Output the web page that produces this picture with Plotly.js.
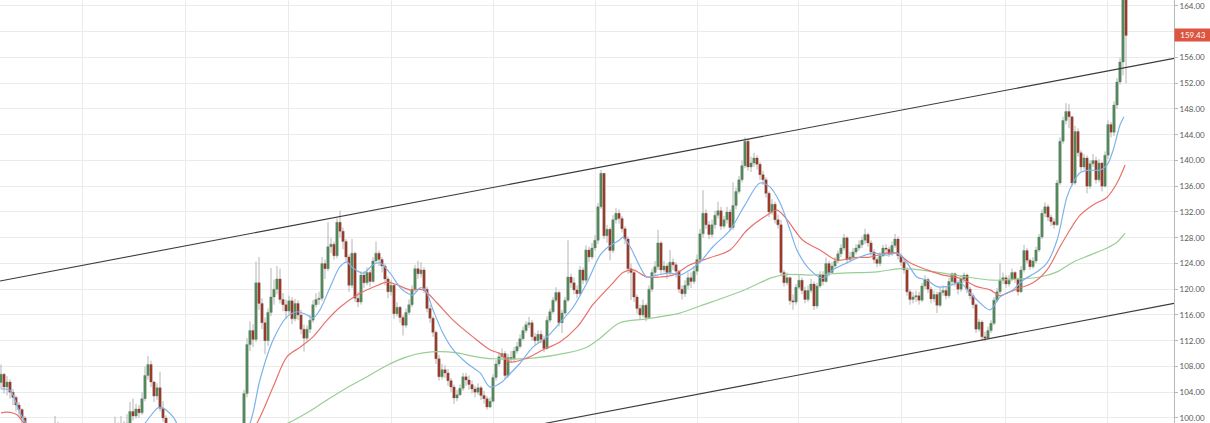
<!DOCTYPE html>
<html>
<head>
<meta charset="utf-8">
<script src="https://cdn.plot.ly/plotly-3.0.1.min.js"></script>
<style>html,body{margin:0;padding:0;background:#fff;}#chart{width:1210px;height:423px;}</style>
</head>
<body>
<div id="chart"></div>
<script>
// ---- price data (daily candles) ----
const firstOpen = 105.5;
const closes = [
106.8,104.8,105.6,104.0,103.2,102.0,101.3,100.0,98.8,98.0,
97.4,97.0,96.5,97.2,96.4,96.8,97.5,98.2,99.0,97.8,
97.0,96.4,95.8,95.4,96.0,96.6,97.2,96.5,95.9,95.3,
95.0,95.6,96.2,96.7,97.1,97.6,98.0,97.6,98.6,98.0,
98.7,98.2,99.2,101.0,100.3,101.4,100.8,103.0,106.6,108.3,
105.6,103.4,104.7,101.5,100.0,98.4,97.4,96.8,96.0,95.5,
95.0,94.4,94.0,94.6,95.1,94.2,93.6,93.1,93.5,94.1,
94.6,94.0,93.5,93.1,93.6,94.2,94.7,95.2,95.6,96.1,
98.2,103.8,111.4,113.6,112.2,121.0,117.8,114.8,112.0,116.4,
118.8,120.0,121.6,118.4,117.6,116.6,118.2,115.4,117.8,116.0,
113.8,112.4,113.8,115.2,117.6,118.4,118.6,124.0,123.2,126.6,
127.0,125.2,130.4,129.0,127.4,125.0,120.6,125.6,118.6,118.0,
122.2,121.0,122.6,121.2,124.4,125.6,124.6,123.6,121.6,119.6,
120.6,116.2,117.2,115.6,114.4,116.4,117.6,120.0,123.2,122.4,
123.0,120.0,117.0,115.5,113.3,109.2,106.4,107.5,107.0,105.8,
104.8,103.1,103.6,104.6,106.4,105.9,105.2,104.5,104.0,104.7,
103.5,103.0,101.7,102.6,106.3,108.4,109.5,110.0,106.6,109.4,
109.2,110.4,111.1,112.3,113.6,114.5,114.8,112.6,112.0,113.0,
112.2,110.8,115.2,116.5,118.3,119.5,114.8,116.3,118.3,121.9,
121.0,119.9,119.3,123.0,121.4,126.1,125.0,126.4,127.6,132.8,
138.0,128.3,129.3,126.0,130.8,131.8,131.0,129.4,127.8,123.2,
122.6,118.8,117.0,116.0,117.5,115.6,120.0,122.6,123.5,127.2,
123.0,123.6,122.6,124.2,123.8,122.8,120.0,119.3,120.6,121.8,
121.2,122.8,124.6,128.6,131.8,130.0,128.5,130.0,131.5,132.2,
129.8,130.8,132.0,129.6,133.0,135.2,137.0,139.2,143.0,139.0,
139.6,140.4,139.4,137.8,137.0,134.9,132.0,133.2,130.8,130.0,
122.6,121.0,121.8,118.2,118.0,120.3,121.4,119.8,118.4,119.8,
120.8,117.4,120.5,122.3,121.2,124.0,122.6,123.6,124.4,125.5,
126.4,128.0,124.6,125.0,125.8,126.4,126.9,127.6,128.5,127.2,
125.8,124.6,124.0,125.2,126.4,126.2,125.5,126.8,127.8,125.2,
124.2,123.0,119.6,118.4,118.8,119.0,118.3,120.5,121.5,120.0,
118.5,119.2,117.5,119.5,119.8,119.0,121.2,122.4,121.0,120.0,
121.6,122.2,120.0,119.0,117.6,113.8,114.9,112.6,112.4,113.6,
114.7,118.3,119.6,121.4,121.8,120.8,121.6,122.6,121.6,119.6,
123.0,126.0,124.5,123.5,124.4,126.1,128.1,131.8,132.8,131.2,
130.5,130.0,136.5,143.0,146.2,147.6,146.8,136.5,144.5,141.2,
139.0,140.4,136.0,139.5,140.0,137.0,139.6,136.0,140.8,145.6,
144.4,148.6,152.2,155.3,167.5,159.43
];
const highs = [
108.3,107.0,106.5,106.0,104.5,103.5,102.5,101.5,100.3,99.0,
98.6,98.0,97.5,97.8,97.5,97.6,98.2,99.0,100.3,99.4,
98.2,97.4,96.8,96.2,96.6,97.2,97.8,97.6,96.8,96.2,
95.8,96.2,96.8,97.3,97.8,98.3,98.8,98.6,100.2,99.3,
100.3,99.5,100.6,102.5,103.0,102.2,102.0,104.0,108.0,109.6,
108.9,105.8,105.4,107.2,102.6,100.4,98.8,97.8,97.2,96.4,
96.0,95.4,95.0,95.2,95.8,95.4,94.6,94.0,94.2,94.8,
95.2,95.0,94.4,94.0,94.2,94.8,95.3,95.8,96.4,96.8,
99.0,104.4,112.4,115.0,114.6,124.3,125.0,118.6,115.6,117.0,
123.3,121.5,123.6,123.2,119.4,118.4,119.0,118.8,118.5,118.3,
116.8,114.5,114.4,116.0,118.3,119.4,119.6,125.0,124.6,130.4,
128.0,127.4,131.0,132.2,129.6,127.8,125.4,127.8,125.8,119.6,
122.8,122.8,123.4,123.0,125.0,127.4,126.0,125.0,124.0,122.0,
121.4,120.8,118.0,117.4,116.0,117.0,118.4,120.6,123.8,124.4,
124.2,123.4,120.4,117.6,115.8,113.6,109.8,108.4,108.2,107.6,
106.2,105.2,104.4,105.2,107.0,107.0,106.6,105.8,105.0,105.4,
105.0,104.2,103.4,103.2,106.8,109.0,110.2,110.8,110.4,110.0,
110.4,111.0,111.8,113.0,114.2,115.0,115.7,115.2,113.2,113.6,
113.6,112.8,115.8,117.0,118.8,120.3,119.8,116.8,118.8,127.6,
122.4,121.8,120.6,123.6,123.4,126.8,126.6,127.2,128.4,133.4,
138.5,137.8,130.0,129.6,131.5,132.6,132.4,131.4,129.8,128.2,
124.0,123.0,119.2,117.6,118.4,117.8,120.6,123.2,124.4,129.2,
127.5,124.4,124.0,126.1,124.8,124.2,123.0,120.6,121.4,122.6,
122.6,123.6,125.4,129.4,135.4,132.4,130.6,130.8,132.2,133.6,
132.8,131.4,132.8,132.4,136.6,135.8,137.6,140.0,143.6,143.4,
140.6,141.2,140.8,139.8,138.4,137.4,135.2,134.0,133.6,131.6,
130.8,123.0,122.6,122.0,119.2,120.8,122.2,121.8,120.4,120.6,
121.6,121.2,121.0,122.8,122.8,124.9,124.4,124.2,125.0,126.0,
127.0,128.6,128.2,125.8,126.4,127.0,127.6,128.2,129.4,128.8,
127.6,126.2,125.0,125.8,126.9,127.0,126.6,127.4,128.6,128.2,
125.6,124.6,123.4,120.0,119.6,119.8,119.6,121.0,122.2,121.8,
120.4,119.8,119.6,120.2,120.6,120.4,121.8,122.6,122.6,121.4,
122.2,122.6,122.4,120.4,119.4,117.8,115.4,115.2,113.4,114.2,
115.2,118.8,120.2,124.0,122.6,122.2,122.2,123.2,122.8,121.8,
123.6,126.9,126.4,124.8,125.0,126.6,128.6,132.4,133.5,133.2,
131.6,131.0,137.0,143.6,146.8,148.9,148.8,146.8,145.4,145.0,
141.6,141.0,140.8,140.0,141.0,140.6,140.2,139.8,141.4,146.2,
146.0,149.2,152.8,156.0,170.0,168.0
];
const lows = [
104.5,103.8,103.5,103.0,102.0,101.0,100.2,99.0,97.8,97.0,
96.5,96.2,95.8,96.0,95.8,95.9,96.5,97.4,98.0,97.2,
96.4,95.6,95.0,94.6,95.0,95.8,96.2,96.0,95.2,94.6,
94.2,94.8,95.4,96.0,96.4,96.9,97.2,97.0,97.6,97.4,
97.7,97.5,98.0,98.8,99.6,99.9,100.0,100.5,102.6,106.0,
104.8,102.5,102.8,101.0,99.4,97.8,96.6,96.0,95.4,94.8,
94.3,93.8,93.3,93.6,94.2,93.6,92.9,92.4,92.6,93.2,
93.8,93.3,92.8,92.4,92.8,93.3,93.9,94.4,94.8,95.2,
95.6,97.8,103.2,110.4,111.0,111.8,116.8,113.8,109.9,111.2,
115.8,117.6,119.2,117.8,116.6,115.4,116.0,114.6,115.0,115.2,
113.0,110.3,111.8,113.2,114.8,117.2,117.6,118.2,121.6,122.8,
125.6,124.6,124.8,128.0,126.2,124.2,119.6,120.2,118.0,117.2,
117.6,120.2,120.6,120.4,121.0,124.0,123.6,122.6,120.6,118.6,
119.0,115.4,115.8,114.8,112.8,114.0,116.0,117.2,119.6,121.6,
121.8,119.4,116.4,114.8,112.6,108.4,105.8,106.0,106.2,105.0,
104.0,102.2,102.6,103.4,104.2,105.0,104.4,103.8,103.2,103.6,
102.8,102.2,101.3,101.5,102.4,105.8,108.0,109.0,106.0,106.2,
108.6,108.8,110.0,110.8,112.0,113.2,114.0,112.0,111.2,111.6,
111.6,110.2,110.6,114.8,116.2,118.0,114.2,113.2,116.0,118.0,
120.2,119.2,118.6,119.0,120.8,121.0,124.2,124.6,126.0,127.0,
132.5,127.8,127.2,124.5,125.6,130.2,130.2,128.8,127.0,122.4,
118.3,118.0,116.2,115.2,115.6,115.0,115.4,119.6,122.2,123.0,
122.4,122.6,121.6,122.2,123.0,121.8,119.4,118.4,118.8,120.0,
120.2,120.8,122.2,124.0,128.0,129.4,127.8,128.0,129.4,131.0,
129.2,129.4,130.2,129.0,129.2,132.4,134.8,136.6,138.8,138.4,
138.2,139.0,138.6,137.0,136.2,134.2,131.2,131.6,130.2,129.4,
122.0,120.4,120.6,117.6,116.8,117.6,120.0,119.2,117.8,118.0,
119.4,116.8,117.0,120.2,120.6,121.0,122.0,122.4,123.2,124.0,
125.0,126.0,124.0,124.2,124.6,125.4,126.0,126.4,127.0,126.6,
125.2,124.0,123.4,123.6,125.0,125.6,125.0,125.2,126.4,124.6,
123.6,122.4,119.0,117.6,117.8,118.0,117.6,118.0,120.0,119.4,
117.8,118.0,116.3,117.2,119.0,118.4,118.6,120.6,120.4,119.2,
119.6,121.0,119.4,118.4,117.0,113.2,113.4,112.0,111.9,112.2,
113.2,114.4,118.0,119.2,120.8,120.2,120.4,121.2,121.0,119.0,
119.4,122.6,124.0,123.0,123.2,124.0,125.8,127.8,131.2,130.6,
129.8,129.4,129.8,136.2,142.6,145.6,145.0,136.0,136.2,140.6,
138.4,138.6,134.9,135.6,139.0,136.4,136.6,135.2,135.8,140.2,
143.6,143.8,148.0,151.8,153.2,152.0
];

// ---- moving averages (candle index / value) ----
const maFastIdx = [0,3,6.3,8.7,12,20,30,40,46,48,52.3,53.7,57.3,59,63,70,78,83,86.3,90.7,95.3,98.7,102,104,106.3,109.7,113,115.3,117.3,120.7,124,126.3,129.7,133,135.3,137.3,139.7,141.3,144,147.3,150.7,155.3,159.7,163,167,168.7,173,177.3,182,186.3,190.7,195.3,199.7,202,206.3,207.3,209.7,213,215.3,218.7,223,226.3,229.7,233,237.3,243,248,253,256.3,259.7,263,265.3,269.7,274,277.3,282,286.3,290.7,295.3,298.7,302,305.3,308.7,312,315.3,319.7,323,326.3,329.7,333,337.3,340.7,345.3,348.7,352,355.3,357.3,359.7,363,366.3,368.7,370.7,373,374.3];
const maFastVal = [104.5,104.3,100.8,98.9,96.8,96.3,96.0,97.0,98.2,99.2,101.6,101.6,100.2,98.9,97.2,95.8,95.6,99.2,105.9,112.1,115.7,116.5,116.0,115.5,116.8,120.3,123.5,124.2,123.3,122.5,123.8,124.1,122.5,120.3,119.4,119.1,120.2,120.0,116.8,113.2,110.6,108.5,107.0,104.8,105.6,106.4,108.5,111.0,112.6,114.8,117.2,121.0,125.3,126.4,127.7,128.1,126.6,123.5,121.9,122.2,122.5,122.2,123.0,124.2,126.6,129.2,133.1,136.5,135.9,133.4,129.2,126.1,123.0,121.7,123.0,124.1,125.0,125.6,125.3,125.6,124.1,121.9,121.4,120.4,120.4,121.0,119.4,117.9,116.8,118.8,119.9,121.4,122.7,124.1,127.6,134.3,136.5,138.1,138.5,138.5,139.3,141.6,145.5,146.8];

const maMidIdx = [0,2,5.3,7.3,10,20,40,60,75,82,85.3,90.7,95.3,99.7,104,108.7,113,118.7,124,128.7,132,136.3,140.7,145.3,150.7,157.3,163,166.3,169.7,175.3,180.7,186.3,192,197.3,200,204,207.3,210.7,215.3,219.7,224,229.7,236.3,243,248.7,255.3,258.7,262,267.3,273,278.7,284,289.7,295.3,298.7,303,308.7,314,319.7,325.3,329.7,333,335.3,339.7,344,348.7,353,356.3,359.7,364,368.7,372,374.7];
const maMidVal = [100.8,100.9,100.5,99.4,98.6,97.5,97.0,96.8,96.5,97.4,99.2,104.8,109.5,111.0,112.6,115.2,117.2,119.1,120.3,121.1,120.7,119.9,119.9,117.9,115.2,112.6,110.6,110.0,108.7,109.3,110.6,111.8,114.1,117.6,119.0,121.0,122.6,123.0,121.9,121.9,122.2,123.8,124.9,126.1,129.2,131.5,132.3,130.8,127.6,126.1,124.5,124.9,125.0,125.6,125.6,124.1,123.0,122.2,121.7,120.4,119.9,119.0,119.4,120.2,121.0,123.0,126.6,129.2,131.5,133.1,134.3,136.5,139.3];

const maSlowIdx = [85,95.7,102,108.7,115.3,122,128.7,135.3,140.7,146.3,152,157.3,164,177.3,188.7,195.3,199.7,206.3,215.3,226.3,233,246.3,253,257,262,269.7,280.7,292,299.7,306.3,314,322,330.7,339.7,346.3,352,357.3,363,368.7,372,374.7];
const maSlowVal = [97.5,99.2,100.8,102.8,104.7,106.4,108.2,109.5,110.1,110.3,110.1,109.6,109.2,109.3,110.1,111.0,112.4,114.8,115.4,116.3,117.4,119.6,121.0,121.8,122.3,122.2,122.5,122.7,123.2,123.0,122.5,121.9,121.4,121.6,121.9,122.7,124.2,125.3,126.4,127.3,128.7];

// ---- channel lines ----
const channelX = [-0.333, 391.0];
const channelUpper = [121.28, 155.86];
const channelLower = [83.0, 117.80];

// ---- axis ticks ----
const yTicks = [100,104,108,112,116,120,124,128,132,136,140,144,148,152,156,160,164];
const yTickText = ['100.00','104.00','108.00','112.00','116.00','120.00','124.00','128.00','132.00','136.00','140.00','144.00','148.00','152.00','156.00','','164.00'];
const xGrid = [27.33,61.5,95.67,130.33,164,198,232,265.67,300.33,334.67,368.67];
const lastPrice = 159.43;

// ---- build ----
const idx = closes.map((_, i) => i);
const opens = closes.map((c, i) => i === 0 ? firstOpen : closes[i - 1]);
const bodyHi = closes.map((c, i) => Math.max(c, opens[i]));
const bodyLo = closes.map((c, i) => Math.min(c, opens[i]));

const GREEN = '#4f8a58', RED = '#9e3829', WICK = '#b4b4b4';

const traces = [
  {type:'candlestick', x:idx, open:opens, high:highs, low:lows, close:closes,
   increasing:{line:{color:WICK,width:1}, fillcolor:'rgba(0,0,0,0)'},
   decreasing:{line:{color:WICK,width:1}, fillcolor:'rgba(0,0,0,0)'},
   whiskerwidth:0, hoverinfo:'skip', showlegend:false},
  {type:'candlestick', x:idx, open:opens, high:bodyHi, low:bodyLo, close:closes,
   increasing:{line:{color:GREEN,width:0}, fillcolor:GREEN},
   decreasing:{line:{color:RED,width:0}, fillcolor:RED},
   whiskerwidth:0, hoverinfo:'skip', showlegend:false},
  {type:'scatter', mode:'lines', x:maSlowIdx, y:maSlowVal, line:{color:'#98cf95', width:1.2, shape:'spline', smoothing:0.9}, hoverinfo:'skip'},
  {type:'scatter', mode:'lines', x:maMidIdx, y:maMidVal, line:{color:'#e8716b', width:1.2, shape:'spline', smoothing:0.9}, hoverinfo:'skip'},
  {type:'scatter', mode:'lines', x:maFastIdx, y:maFastVal, line:{color:'#7db2ea', width:1.2, shape:'spline', smoothing:0.9}, hoverinfo:'skip'},
  {type:'scatter', mode:'lines', x:channelX, y:channelUpper, line:{color:'#3a3a3a', width:1.1}, hoverinfo:'skip'},
  {type:'scatter', mode:'lines', x:channelX, y:channelLower, line:{color:'#3a3a3a', width:1.1}, hoverinfo:'skip'}
];

const layout = {
  width:1210, height:423,
  margin:{l:0, r:36, t:0, b:0, pad:0},
  paper_bgcolor:'#ffffff', plot_bgcolor:'#ffffff',
  showlegend:false,
  boxgap:0.15, boxgroupgap:0.1,
  font:{family:'Lato, "DejaVu Sans", sans-serif', size:8, color:'#5a5a5a'},
  xaxis:{range:[-0.333, 391.0], showticklabels:false, tickmode:'array', tickvals:xGrid,
         showgrid:true, gridcolor:'#ebebeb', gridwidth:1, zeroline:false, ticks:'',
         rangeslider:{visible:false}, fixedrange:true, showline:false},
  yaxis:{range:[99.22, 164.93], side:'right', tickmode:'array', tickvals:yTicks, ticktext:yTickText,
         showgrid:true, gridcolor:'#ebebeb', gridwidth:1, zeroline:false,
         showline:true, linecolor:'#b8b8b8', linewidth:1, ticks:'outside', ticklen:3, tickcolor:'#b8b8b8',
         tickfont:{size:8, color:'#5a5a5a'}, fixedrange:true},
  annotations:[{xref:'paper', x:1, xanchor:'left', xshift:0, yref:'y', y:lastPrice,
                text:lastPrice.toFixed(2), showarrow:false, bgcolor:'#dc5540',
                font:{color:'#ffffff', size:8}, borderpad:1, width:34, align:'center'}]
};

Plotly.newPlot('chart', traces, layout, {displayModeBar:false, staticPlot:true});
</script>
</body>
</html>
